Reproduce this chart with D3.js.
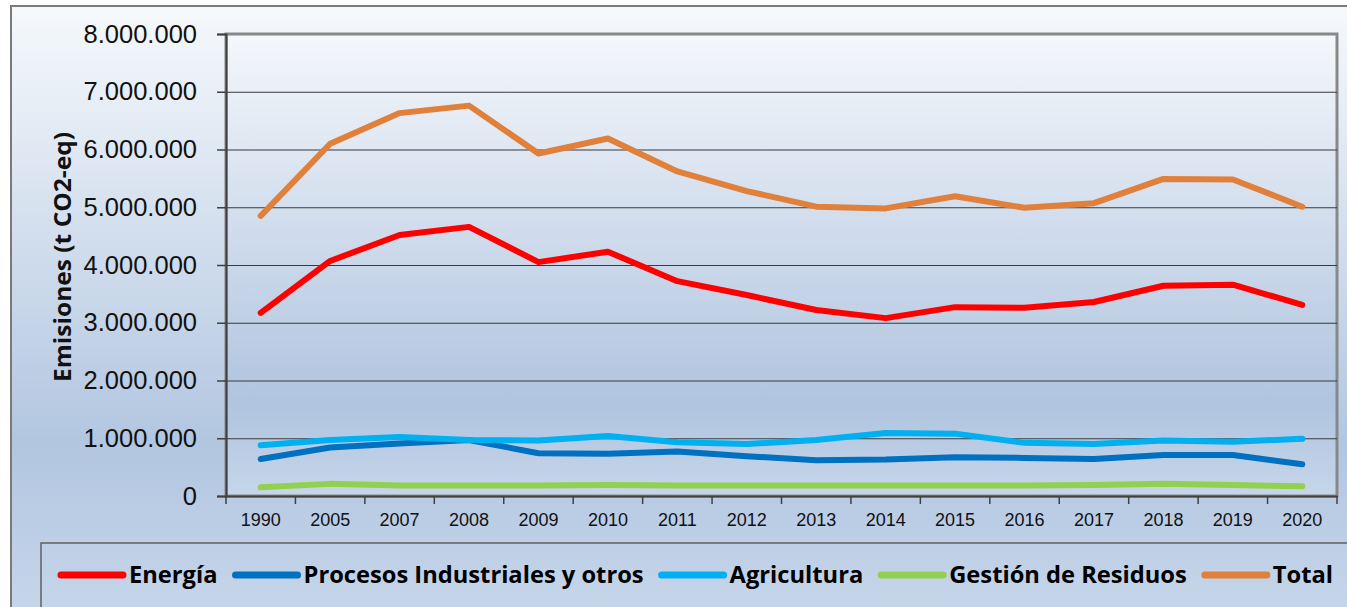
<!DOCTYPE html>
<head>
  <meta charset="utf-8">
  <script src="https://d3js.org/d3.v7.min.js"></script>
  <style>
    body { margin:0; background:#fff; }
    svg { display:block; }
  </style>
</head>
<body>
<script>
  var years = ["1990","2005","2007","2008","2009","2010","2011","2012","2013","2014","2015","2016","2017","2018","2019","2020"];

  var energia     = [3170000,4070000,4520000,4660000,4050000,4230000,3720000,3480000,3220000,3080000,3270000,3260000,3360000,3640000,3660000,3310000];
  var procesos    = [640000,840000,910000,970000,740000,730000,770000,690000,620000,630000,670000,660000,640000,710000,710000,550000];
  var agricultura = [880000,970000,1020000,970000,960000,1040000,930000,900000,970000,1090000,1080000,920000,900000,960000,940000,990000];
  var residuos    = [150000,210000,180000,180000,180000,190000,180000,180000,180000,180000,180000,180000,190000,210000,190000,170000];
  var total       = [4850000,6100000,6630000,6760000,5930000,6190000,5620000,5280000,5010000,4980000,5190000,4990000,5070000,5490000,5480000,5010000];

  var seriesNames  = ["Energía","Procesos Industriales y otros","Agricultura","Gestión de Residuos","Total"];
  var seriesColors = ["#ff0000","#0070c0","#00b0f0","#92d050","#e0803a"];
  var seriesData   = [energia, procesos, agricultura, residuos, total];
  var yTicks = [0,1000000,2000000,3000000,4000000,5000000,6000000,7000000,8000000];

  var W = 1347, H = 607;
  var plot = {left:226, top:34, right:1337, bottom:496};

  var svg = d3.select("body").append("svg").attr("width", W).attr("height", H);
  var defs = svg.append("defs");

  var bg = defs.append("linearGradient").attr("id","bgGrad").attr("x1",0).attr("y1",0).attr("x2",0).attr("y2",1);
  bg.append("stop").attr("offset","0%").attr("stop-color","#f6f9fc");
  bg.append("stop").attr("offset","72%").attr("stop-color","#b2c6e0");
  bg.append("stop").attr("offset","100%").attr("stop-color","#c6d6ea");

  var pg = defs.append("linearGradient").attr("id","plotGrad").attr("x1",0).attr("y1",0).attr("x2",0).attr("y2",1);
  pg.append("stop").attr("offset","0%").attr("stop-color","#f4f7fb");
  pg.append("stop").attr("offset","80%").attr("stop-color","#b0c4df");
  pg.append("stop").attr("offset","100%").attr("stop-color","#c6d6ea");

  // chart area
  svg.append("rect").attr("x",11).attr("y",6).attr("width",W).attr("height",H)
    .attr("fill","url(#bgGrad)").attr("stroke","#7a7a7a").attr("stroke-width",2);

  // plot area
  svg.append("rect").attr("x",plot.left).attr("y",plot.top)
    .attr("width",plot.right-plot.left).attr("height",plot.bottom-plot.top)
    .attr("fill","url(#plotGrad)").attr("stroke","#888").attr("stroke-width",3);

  var x = d3.scaleBand().domain(years).range([plot.left, plot.right]);
  var y = d3.scaleLinear().domain([0, 8000000]).range([plot.bottom, plot.top]);

  // gridlines
  svg.append("g").selectAll("line").data(yTicks.filter(function(d){ return d > 0 && d < 8000000; }))
    .enter().append("line")
      .attr("x1", plot.left).attr("x2", plot.right)
      .attr("y1", function(d){ return y(d) + 0.5; }).attr("y2", function(d){ return y(d) + 0.5; })
      .attr("stroke", "#3a3a3a").attr("stroke-width", 1.2);

  var fmt = function(d){ return d3.format(",")(d).replace(/,/g, "."); };

  var yAxis = svg.append("g").attr("transform","translate(" + plot.left + ",0)")
    .call(d3.axisLeft(y).tickValues(yTicks).tickFormat(fmt).tickSize(9).tickPadding(20));
  yAxis.select(".domain").attr("stroke","#404040").attr("stroke-width",2);
  yAxis.selectAll(".tick line").attr("stroke","#404040").attr("stroke-width",1.5);
  yAxis.selectAll("text").attr("font-family","Liberation Sans, Arial, sans-serif")
    .attr("font-size",25.5).attr("fill","#111");

  var xAxis = svg.append("g").attr("transform","translate(0," + plot.bottom + ")")
    .call(d3.axisBottom(x).tickSize(0).tickPadding(17));
  xAxis.select(".domain").attr("stroke","#404040").attr("stroke-width",2);
  xAxis.selectAll("text").attr("font-family","Liberation Sans, Arial, sans-serif")
    .attr("font-size",18).attr("fill","#111");
  xAxis.selectAll(".bt").data(years.concat(["end"])).enter().append("line")
    .attr("x1", function(d, i){ return plot.left + i * x.step(); })
    .attr("x2", function(d, i){ return plot.left + i * x.step(); })
    .attr("y1", 0).attr("y2", 8).attr("stroke","#404040").attr("stroke-width",1.5);

  // y title
  svg.append("text").attr("transform","translate(71,257) rotate(-90)")
    .attr("text-anchor","middle").attr("font-family","Open Sans, sans-serif")
    .attr("font-weight","bold").attr("font-size",22.5).attr("fill","#111")
    .attr("textLength",250).attr("lengthAdjust","spacingAndGlyphs")
    .text("Emisiones (t CO2-eq)");

  // lines
  var line = d3.line()
    .x(function(d, i){ return x(years[i]) + x.bandwidth()/2; })
    .y(function(d){ return y(d); });

  svg.append("g").selectAll("path").data(seriesData).enter().append("path")
    .attr("d", line)
    .attr("fill","none")
    .attr("stroke", function(d, i){ return seriesColors[i]; })
    .attr("stroke-width", 6)
    .attr("stroke-linejoin","round")
    .attr("stroke-linecap","round");

  // legend
  svg.append("rect").attr("x",41).attr("y",543).attr("width",W).attr("height",H)
    .attr("fill","none").attr("stroke","#606060").attr("stroke-width",1.5);

  var lg = svg.append("g");
  var lx = 61, ly = 575;
  seriesNames.forEach(function(name, i){
    lg.append("line").attr("x1", lx).attr("x2", lx + 62).attr("y1", ly).attr("y2", ly)
      .attr("stroke", seriesColors[i]).attr("stroke-width", 7).attr("stroke-linecap","round");
    var t = lg.append("text").attr("x", lx + 68).attr("y", ly + 8)
      .attr("font-family","Open Sans, sans-serif").attr("font-weight","bold")
      .attr("font-size",23.7).attr("fill","#000").text(name);
    lx += 68 + t.node().getComputedTextLength() + 18;
  });
</script>
</body>
